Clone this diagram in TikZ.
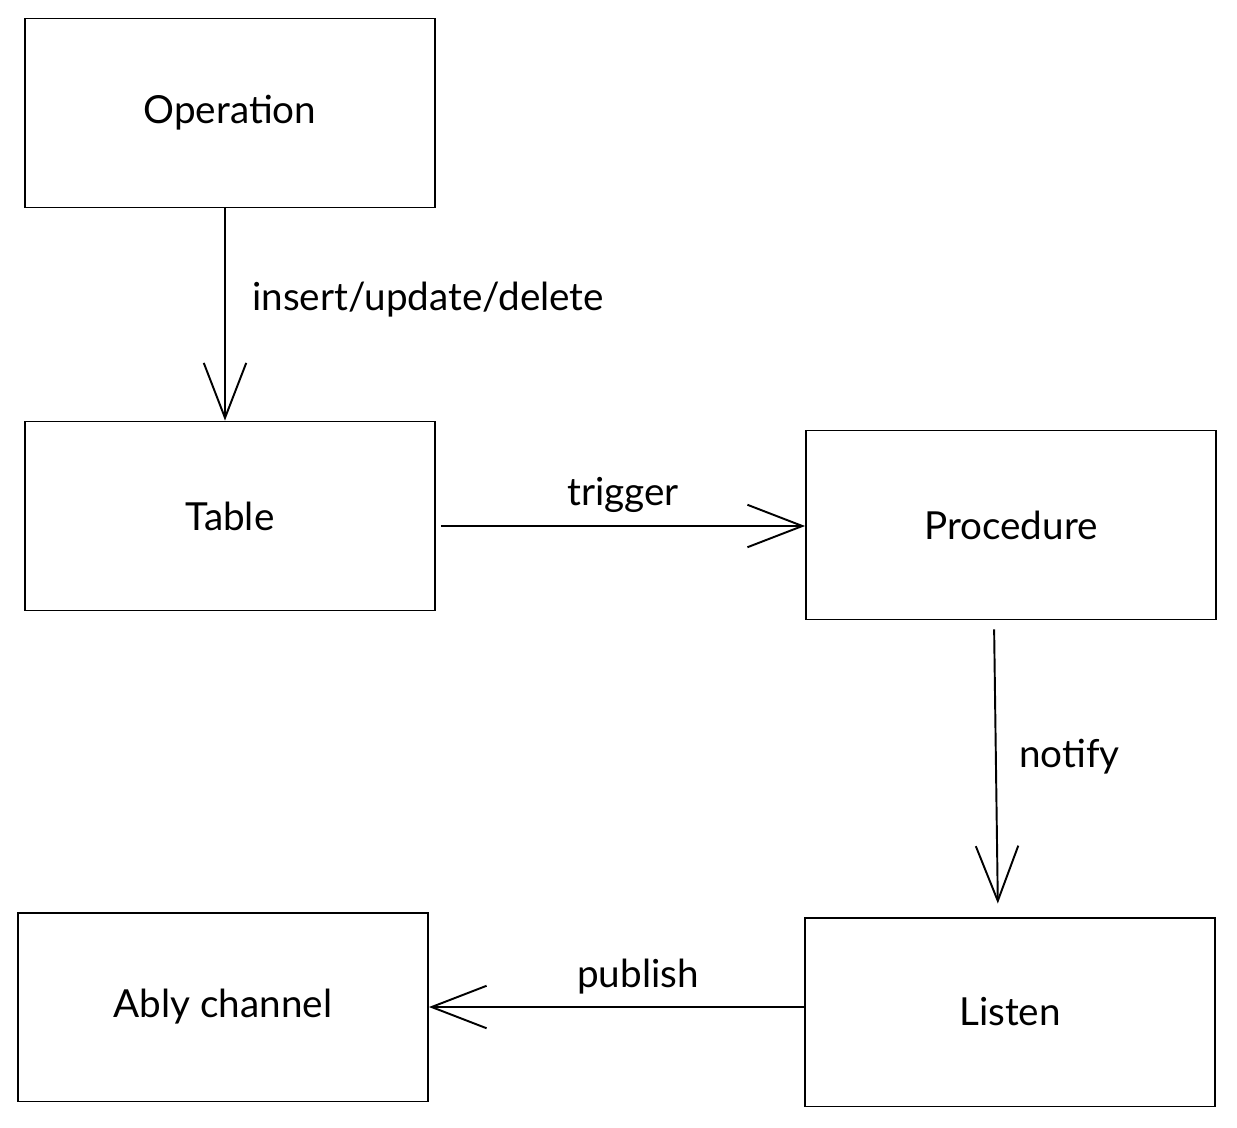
\documentclass[tikz,border=0pt]{standalone}
\usepackage{fontspec}
\setmainfont{Lato}
\usetikzlibrary{positioning,arrows.meta}

\begin{document}
\begin{tikzpicture}[x=0.02cm, y=-0.02cm, font=\fontsize{22}{26}\selectfont,
    box/.style={draw, line width=1.1pt, minimum width=8.2cm, minimum height=3.78cm},
    flow/.style={draw, line width=1.1pt, -{Straight Barb[length=1.1cm, width=0.85cm, line width=1.1pt]}}]
  \useasboundingbox (0,0) rectangle (1237,1127);
  % boxes
  \node[box] (op)   at (230,113)  {Operation};
  \node[box] (tab)  at (230,516)  {Table};
  \node[box] (proc) at (1011,525) {Procedure};
  \node[box] (lis)  at (1010,1012) {Listen};
  \node[box] (ably) at (223,1007) {Ably channel};
  % connectors
  \draw[flow] ([xshift=-0.1cm]op.south) -- ([xshift=-0.1cm]tab.north);
  \draw[flow] ([shift={(0.1cm,-0.2cm)}]tab.east) -- ([yshift=-0.2cm]tab.east -| proc.west);
  \draw[flow, shorten <=0.18cm, shorten >=0.26cm] ([xshift=-0.34cm]proc.south) -- ([xshift=-0.24cm]lis.north);
  \draw[flow] ([yshift=0.1cm]lis.west) -- ([yshift=0.1cm]lis.west -| ably.east);
  % labels
  \node[anchor=west] (l1) at (246,300) {insert/update/delete};
  \node (l2) at (623,495) {trigger};
  \node[anchor=west] (l3) at (1013,757) {notify};
  \node (l4) at (638,977) {publish};
\end{tikzpicture}
\end{document}
